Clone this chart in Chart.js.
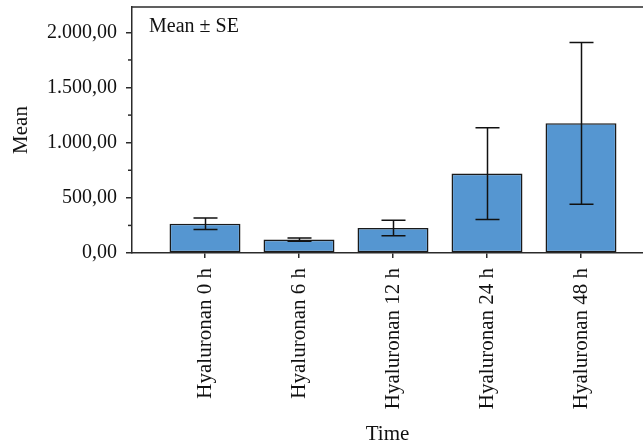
<!DOCTYPE html>
<html>
<head>
<meta charset="utf-8">
<script src="https://cdn.jsdelivr.net/npm/chart.js@4"></script>
<style>
  html, body { margin: 0; padding: 0; background: #ffffff; }
  canvas { display: block; }
</style>
</head>
<body>
<canvas id="c" width="643" height="447"></canvas>
<script>
const categories = ["Hyaluronan 0 h", "Hyaluronan 6 h", "Hyaluronan 12 h", "Hyaluronan 24 h", "Hyaluronan 48 h"];
const means = [265, 122, 227, 720, 1176];
const standardErrors = [52, 15, 70, 416, 733];
const yTickValues = [0, 250, 500, 750, 1000, 1250, 1500, 1750, 2000];
const yLabelledTicks = [0, 500, 1000, 1500, 2000];
const yTitle = "Mean";
const xTitle = "Time";
const annotationText = "Mean \u00B1 SE";

const FONT = "'Liberation Serif', 'Times New Roman', serif";
const AXIS_COLOR = '#2b2b2b';

function formatDE(v) {
  const whole = Math.round(v).toString().replace(/\B(?=(\d{3})+(?!\d))/g, '.');
  return whole + ',00';
}

const barData = means.map((m, i) => ({ x: i, y: m }));

const frameAndErrors = {
  id: 'frameAndErrors',
  afterDatasetsDraw(chart) {
    const { ctx, chartArea, scales } = chart;
    const xs = scales.x, ys = scales.y;
    ctx.save();
    ctx.strokeStyle = '#111111';
    ctx.lineWidth = 1.5;
    const cap = 12;
    means.forEach((m, i) => {
      const x = Math.round(xs.getPixelForValue(i)) + 0.5;
      const yT = ys.getPixelForValue(m + standardErrors[i]);
      const yB = ys.getPixelForValue(m - standardErrors[i]);
      ctx.beginPath();
      ctx.moveTo(x, yT); ctx.lineTo(x, yB);
      ctx.moveTo(x - cap, yT); ctx.lineTo(x + cap, yT);
      ctx.moveTo(x - cap, yB); ctx.lineTo(x + cap, yB);
      ctx.stroke();
    });
    // minor ticks (shorter)
    ctx.strokeStyle = AXIS_COLOR;
    ctx.lineWidth = 1.5;
    yTickValues.filter(v => !yLabelledTicks.includes(v)).forEach(v => {
      const y = ys.getPixelForValue(v);
      ctx.beginPath();
      ctx.moveTo(chartArea.left - 4, y);
      ctx.lineTo(chartArea.left, y);
      ctx.stroke();
    });
    // top frame
    ctx.beginPath();
    ctx.moveTo(chartArea.left, chartArea.top);
    ctx.lineTo(chartArea.right, chartArea.top);
    ctx.stroke();
    ctx.fillStyle = '#111111';
    ctx.font = '20px ' + FONT;
    ctx.textBaseline = 'alphabetic';
    ctx.textAlign = 'left';
    ctx.fillText(annotationText, chartArea.left + 17, chartArea.top + 25);
    ctx.restore();
  }
};

new Chart(document.getElementById('c'), {
  type: 'bar',
  data: {
    datasets: [{
      data: barData,
      backgroundColor: '#5596d1',
      borderColor: '#1a1a1a',
      borderWidth: 1.6,
      borderSkipped: false,
      categoryPercentage: 1.0,
      barPercentage: 0.755
    }]
  },
  options: {
    responsive: false,
    animation: false,
    devicePixelRatio: 1,
    layout: { padding: { top: 7, right: 0, left: 0, bottom: 0 } },
    plugins: { legend: { display: false }, tooltip: { enabled: false } },
    scales: {
      x: {
        type: 'linear',
        offset: false,
        min: -0.7766,
        max: 4.6596,
        afterBuildTicks(scale) { scale.ticks = categories.map((_, i) => ({ value: i })); },
        afterFit(scale) {
          scale.height = 194;
          scale.paddingLeft = 0; scale.paddingRight = 0;
        },
        grid: { display: true, offset: false, drawOnChartArea: false, tickLength: 5, color: AXIS_COLOR, lineWidth: 1.5 },
        border: { display: true, color: AXIS_COLOR, width: 1.5 },
        ticks: {
          autoSkip: false,
          minRotation: 90,
          maxRotation: 90,
          padding: 10,
          color: '#111111',
          font: { family: FONT, size: 21 },
          callback: (v) => categories[v]
        },
        title: {
          display: true,
          text: xTitle,
          color: '#111111',
          font: { family: FONT, size: 21 },
          padding: { top: 0, bottom: 0 }
        }
      },
      y: {
        type: 'linear',
        min: 0,
        max: 2230,
        afterBuildTicks(scale) { scale.ticks = yTickValues.map(v => ({ value: v })); },
        afterFit(scale) {
          scale.width = 132;
          scale.paddingTop = 0; scale.paddingBottom = 0;
        },
        grid: {
          display: true, drawOnChartArea: false, tickLength: 6, color: AXIS_COLOR, lineWidth: 1.5,
          tickColor: (ctx) => (ctx.tick && yLabelledTicks.includes(ctx.tick.value)) ? AXIS_COLOR : 'rgba(0,0,0,0)'
        },
        border: { display: true, color: AXIS_COLOR, width: 1.5 },
        ticks: {
          autoSkip: false,
          padding: 9,
          color: '#111111',
          font: { family: FONT, size: 20 },
          callback: (v) => yLabelledTicks.includes(v) ? formatDE(v) : ''
        },
        title: {
          display: true,
          text: yTitle,
          color: '#111111',
          font: { family: FONT, size: 21 },
          padding: { top: 9, bottom: 0 }
        }
      }
    }
  },
  plugins: [frameAndErrors]
});
</script>
</body>
</html>
